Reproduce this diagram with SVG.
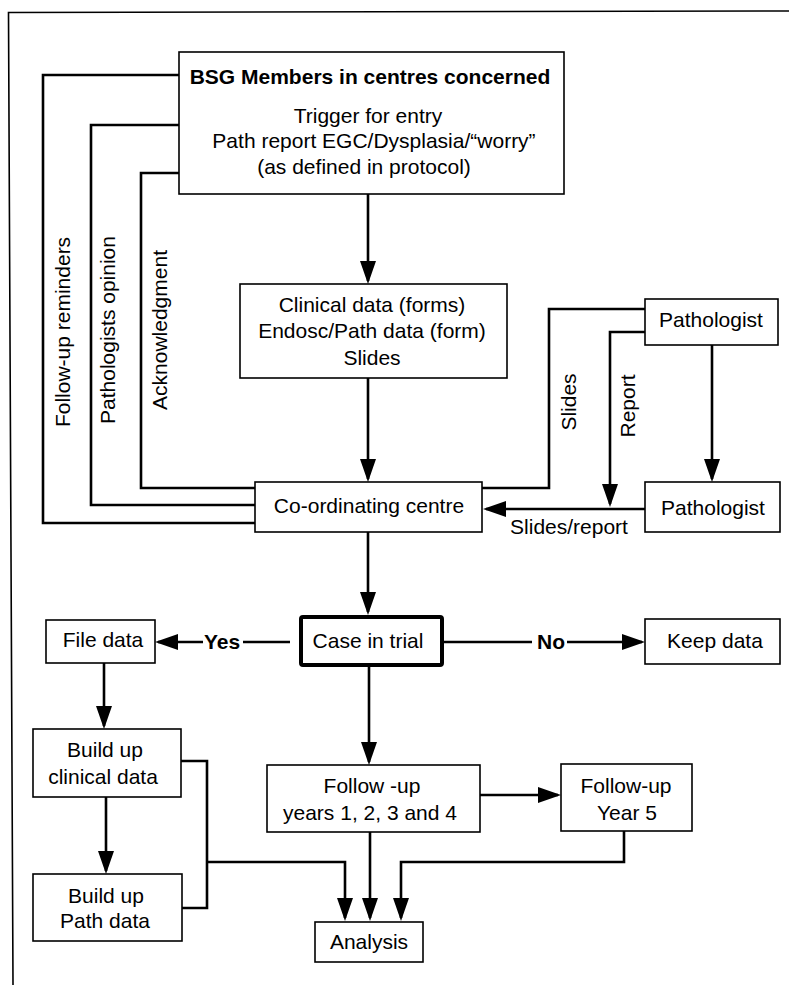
<svg xmlns="http://www.w3.org/2000/svg" width="789" height="985" viewBox="0 0 789 985">
<style>
  .box { fill: #fff; stroke: #000; stroke-width: 1.6; }
  .thick { fill: #fff; stroke: #000; stroke-width: 4; }
  .t { font-family: "Liberation Sans", Arial, sans-serif; font-size: 21px; fill: #000; text-anchor: middle; }
  .b { font-weight: bold; }
  .c { fill: none; stroke: #000; stroke-width: 2.6; }
  .frame { fill: none; stroke: #000; stroke-width: 1.6; }
</style>
<defs>
  <marker id="ah" markerUnits="userSpaceOnUse" markerWidth="24" markerHeight="16" refX="20" refY="8" orient="auto">
    <path d="M0,0 L23,8 L0,16 z" fill="#000"/>
  </marker>
</defs>
<rect width="789" height="985" fill="#fff"/>
<path class="frame" d="M13,985 L8.5,12.5 L789,11"/>

<g id="connectors">
  <path class="c" d="M179,75 H43 V523 H255"/>
  <path class="c" d="M179,125 H91 V505 H255"/>
  <path class="c" d="M179,173 H141 V488 H255"/>
  <path class="c" d="M368,194 V281" marker-end="url(#ah)"/>
  <path class="c" d="M368,378 V479" marker-end="url(#ah)"/>
  <path class="c" d="M645,309 H549 V488 H482"/>
  <path class="c" d="M645,332 H610 V504" marker-end="url(#ah)"/>
  <path class="c" d="M712,345 V479" marker-end="url(#ah)"/>
  <path class="c" d="M645,509 H486" marker-end="url(#ah)"/>
  <path class="c" d="M368,532 V612" marker-end="url(#ah)"/>
  <path class="c" d="M290,642 H243"/>
  <path class="c" d="M203,642 H158" marker-end="url(#ah)"/>
  <path class="c" d="M442,642 H532"/>
  <path class="c" d="M567,642 H642" marker-end="url(#ah)"/>
  <path class="c" d="M104,663 V726" marker-end="url(#ah)"/>
  <path class="c" d="M106,797 V871" marker-end="url(#ah)"/>
  <path class="c" d="M181,761 H207 V908 H182"/>
  <path class="c" d="M207,862 H345 V918" marker-end="url(#ah)"/>
  <path class="c" d="M369,665 V762" marker-end="url(#ah)"/>
  <path class="c" d="M480,795 H558" marker-end="url(#ah)"/>
  <path class="c" d="M370,832 V918" marker-end="url(#ah)"/>
  <path class="c" d="M624,831 V862 H401 V918" marker-end="url(#ah)"/>
  <g id="connector-labels">
    <text class="t" transform="translate(70,332) rotate(-90)">Follow-up reminders</text>
    <text class="t" transform="translate(115,330) rotate(-90)">Pathologists opinion</text>
    <text class="t" transform="translate(167,330) rotate(-90)">Acknowledgment</text>
    <text class="t" transform="translate(576,402) rotate(-90)">Slides</text>
    <text class="t" transform="translate(635,406) rotate(-90)">Report</text>
    <text class="t" x="569" y="534">Slides/report</text>
    <text class="t b" x="222" y="649">Yes</text>
    <text class="t b" x="551" y="649">No</text>
  </g>
</g>

<g id="bsg">
  <rect class="box" x="179" y="52" width="385" height="142"/>
  <text class="t b" x="370" y="84">BSG Members in centres concerned</text>
  <text class="t" x="368" y="123">Trigger for entry</text>
  <text class="t" x="374" y="148">Path report EGC/Dysplasia/“worry”</text>
  <text class="t" x="364" y="174">(as defined in protocol)</text>
</g>
<g id="clinical">
  <rect class="box" x="240" y="284" width="267" height="94"/>
  <text class="t" x="372" y="312">Clinical data (forms)</text>
  <text class="t" x="372" y="338">Endosc/Path data (form)</text>
  <text class="t" x="372" y="365">Slides</text>
</g>
<g id="coordinating">
  <rect class="box" x="255" y="482" width="227" height="50"/>
  <text class="t" x="369" y="513">Co-ordinating centre</text>
</g>
<g id="pathologist1">
  <rect class="box" x="645" y="299" width="133" height="46"/>
  <text class="t" x="711" y="327">Pathologist</text>
</g>
<g id="pathologist2">
  <rect class="box" x="645" y="482" width="135" height="50"/>
  <text class="t" x="713" y="515">Pathologist</text>
</g>
<g id="case">
  <rect class="thick" x="301" y="617" width="141" height="48" rx="2"/>
  <text class="t" x="368" y="648">Case in trial</text>
</g>
<g id="filedata">
  <rect class="box" x="46" y="620" width="109" height="43"/>
  <text class="t" x="103" y="647">File data</text>
</g>
<g id="keepdata">
  <rect class="box" x="645" y="619" width="135" height="45"/>
  <text class="t" x="715" y="648">Keep data</text>
</g>
<g id="buildclinical">
  <rect class="box" x="33" y="729" width="148" height="68"/>
  <text class="t" x="105" y="757">Build up</text>
  <text class="t" x="103" y="784">clinical data</text>
</g>
<g id="buildpath">
  <rect class="box" x="33" y="874" width="149" height="67"/>
  <text class="t" x="106" y="903">Build up</text>
  <text class="t" x="105" y="928">Path data</text>
</g>
<g id="followup14">
  <rect class="box" x="267" y="765" width="213" height="67"/>
  <text class="t" x="372" y="793">Follow -up</text>
  <text class="t" x="370" y="820">years 1, 2, 3 and 4</text>
</g>
<g id="followup5">
  <rect class="box" x="561" y="764" width="131" height="67"/>
  <text class="t" x="626" y="793">Follow-up</text>
  <text class="t" x="627" y="820">Year 5</text>
</g>
<g id="analysis">
  <rect class="box" x="315" y="922" width="108" height="40"/>
  <text class="t" x="369" y="949">Analysis</text>
</g>
</svg>
